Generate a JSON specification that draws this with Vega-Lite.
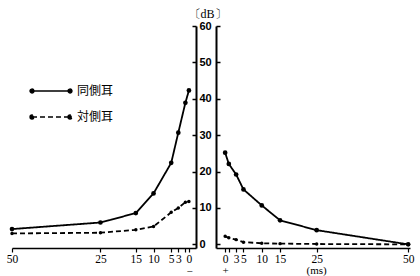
{
  "$schema": "https://vega.github.io/schema/vega-lite/v6.json",
  "background": "white",
  "padding": {"left": 6, "top": 7, "right": 2, "bottom": 0},
  "bounds": "flush",
  "spacing": 20,
  "config": {
    "view": {"stroke": null},
    "axis": {"domainColor": "black", "tickColor": "black", "labelColor": "black", "titleColor": "black", "titleFontWeight": "normal", "grid": false},
    "legend": {"labelColor": "black"}
  },
  "resolve": {"legend": {"strokeDash": "independent"}},
  "data": {"values": [
    {"side": "neg", "ear": "同側耳", "t": 50, "dB": 4.2},
    {"side": "neg", "ear": "同側耳", "t": 25, "dB": 6.0},
    {"side": "neg", "ear": "同側耳", "t": 15, "dB": 8.6},
    {"side": "neg", "ear": "同側耳", "t": 10, "dB": 14.0},
    {"side": "neg", "ear": "同側耳", "t": 5, "dB": 22.4},
    {"side": "neg", "ear": "同側耳", "t": 3, "dB": 30.7},
    {"side": "neg", "ear": "同側耳", "t": 1, "dB": 38.9},
    {"side": "neg", "ear": "同側耳", "t": 0, "dB": 42.3},
    {"side": "neg", "ear": "対側耳", "t": 50, "dB": 3.0},
    {"side": "neg", "ear": "対側耳", "t": 25, "dB": 3.2},
    {"side": "neg", "ear": "対側耳", "t": 15, "dB": 4.0},
    {"side": "neg", "ear": "対側耳", "t": 10, "dB": 4.9},
    {"side": "neg", "ear": "対側耳", "t": 5, "dB": 8.8},
    {"side": "neg", "ear": "対側耳", "t": 3, "dB": 10.0},
    {"side": "neg", "ear": "対側耳", "t": 1, "dB": 11.6},
    {"side": "neg", "ear": "対側耳", "t": 0, "dB": 11.8},
    {"side": "pos", "ear": "同側耳", "t": 0, "dB": 25.2},
    {"side": "pos", "ear": "同側耳", "t": 1, "dB": 22.1},
    {"side": "pos", "ear": "同側耳", "t": 3, "dB": 19.2},
    {"side": "pos", "ear": "同側耳", "t": 5, "dB": 15.1},
    {"side": "pos", "ear": "同側耳", "t": 10, "dB": 10.7},
    {"side": "pos", "ear": "同側耳", "t": 15, "dB": 6.6},
    {"side": "pos", "ear": "同側耳", "t": 25, "dB": 3.9},
    {"side": "pos", "ear": "同側耳", "t": 50, "dB": 0.0},
    {"side": "pos", "ear": "対側耳", "t": 0, "dB": 2.2},
    {"side": "pos", "ear": "対側耳", "t": 1, "dB": 1.8},
    {"side": "pos", "ear": "対側耳", "t": 3, "dB": 1.3},
    {"side": "pos", "ear": "対側耳", "t": 5, "dB": 0.6},
    {"side": "pos", "ear": "対側耳", "t": 10, "dB": 0.3},
    {"side": "pos", "ear": "対側耳", "t": 15, "dB": 0.2},
    {"side": "pos", "ear": "対側耳", "t": 25, "dB": 0.1},
    {"side": "pos", "ear": "対側耳", "t": 50, "dB": 0.0}
  ]},
  "hconcat": [
    {
      "width": 184,
      "height": 222,
      "transform": [{"filter": "datum.side == 'neg'"}],
      "encoding": {
        "x": {"field": "t", "type": "quantitative",
          "scale": {"domain": [-2, 50], "reverse": true, "nice": false, "zero": false},
          "axis": {"values": [0, 1, 3, 5, 10, 15, 25, 50], "labelExpr": "datum.value == 1 ? '' : datum.label", "labelOverlap": false, "labelFlush": false, "tickSize": 4, "labelPadding": 1, "domainWidth": 1.5, "tickWidth": 1.2, "labelFont": "Liberation Serif", "labelFontSize": 11.5,
            "title": "−", "titleX": 177, "titleY": 23, "titleAlign": "center", "titleBaseline": "middle", "titleFont": "Liberation Serif", "titleFontSize": 11}},
        "y": {"field": "dB", "type": "quantitative",
          "scale": {"domain": [-1, 60], "nice": false, "zero": false},
          "axis": {"orient": "right", "values": [0, 10, 20, 30, 40, 50, 60], "tickSize": -4, "tickWidth": 1.5, "labelPadding": 7, "domainWidth": 2, "labelFont": "Liberation Sans", "labelFontSize": 11, "labelFontWeight": "bold",
            "title": "〔dB〕", "titleAngle": 0, "titleX": 11, "titleY": -13, "titleAlign": "center", "titleBaseline": "middle", "titleFont": "Liberation Serif", "titleFontSize": 12}}
      },
      "layer": [
        {
          "mark": {"type": "line", "color": "black", "strokeWidth": 1.8},
          "encoding": {
            "strokeDash": {"field": "ear", "type": "nominal",
              "scale": {"domain": ["同側耳", "対側耳"], "range": [[1, 0], [5, 3]]},
              "legend": {"orient": "none", "legendX": 19, "legendY": 45, "title": null,
                "symbolType": "M-1,0L1,0M-1.1,0A0.1,0.1,0,1,0,-0.9,0A0.1,0.1,0,1,0,-1.1,0M0.9,0A0.1,0.1,0,1,0,1.1,0A0.1,0.1,0,1,0,0.9,0",
                "symbolSize": 1444, "symbolStrokeWidth": 1.5, "symbolStrokeColor": "black", "symbolFillColor": "black",
                "labelFont": "Noto Sans CJK JP", "labelFontSize": 12, "labelOffset": 6, "rowPadding": -6}}
          }
        },
        {
          "transform": [{"filter": "datum.ear == '同側耳'"}],
          "mark": {"type": "point", "filled": true, "color": "black", "opacity": 1, "size": 22}
        },
        {
          "transform": [{"filter": "datum.ear == '対側耳'"}],
          "mark": {"type": "point", "filled": true, "color": "black", "opacity": 1, "size": 12}
        }
      ]
    },
    {
      "width": 194,
      "height": 222,
      "layer": [
        {
          "transform": [{"filter": "datum.side == 'pos'"}],
          "encoding": {
            "x": {"field": "t", "type": "quantitative",
              "scale": {"domain": [-2.5, 50.5], "nice": false, "zero": false},
              "axis": {"values": [0, 1, 3, 5, 10, 15, 25, 50], "labelExpr": "datum.value == 1 ? '' : datum.label", "labelOverlap": false, "labelFlush": false, "tickSize": 4, "labelPadding": 1, "domainWidth": 1.5, "tickWidth": 1.2, "labelFont": "Liberation Serif", "labelFontSize": 11.5,
                "title": "+", "titleX": 9, "titleY": 22, "titleAlign": "center", "titleBaseline": "middle", "titleFont": "Liberation Serif", "titleFontSize": 11}},
            "y": {"field": "dB", "type": "quantitative",
              "scale": {"domain": [-1, 60], "nice": false, "zero": false},
              "axis": {"orient": "left", "values": [0, 10, 20, 30, 40, 50, 60], "labels": false, "tickSize": -4, "tickWidth": 1.5, "domainWidth": 2, "title": null}}
          },
          "layer": [
            {
              "mark": {"type": "line", "color": "black", "strokeWidth": 1.8},
              "encoding": {
                "strokeDash": {"field": "ear", "type": "nominal",
                  "scale": {"domain": ["同側耳", "対側耳"], "range": [[1, 0], [5, 3]]}, "legend": null}
              }
            },
            {
              "transform": [{"filter": "datum.ear == '同側耳'"}],
              "mark": {"type": "point", "filled": true, "color": "black", "opacity": 1, "size": 22}
            },
            {
              "transform": [{"filter": "datum.ear == '対側耳'"}],
              "mark": {"type": "point", "filled": true, "color": "black", "opacity": 1, "size": 12}
            }
          ]
        },
        {
          "data": {"values": [{"label": "(ms)"}]},
          "mark": {"type": "text", "font": "Liberation Serif", "fontSize": 11, "color": "black", "baseline": "middle"},
          "encoding": {
            "x": {"datum": 25, "type": "quantitative",
              "scale": {"domain": [-2.5, 50.5], "nice": false, "zero": false},
              "axis": {"values": [0, 1, 3, 5, 10, 15, 25, 50], "labelExpr": "datum.value == 1 ? '' : datum.label", "labelOverlap": false, "labelFlush": false, "tickSize": 4, "labelPadding": 1, "domainWidth": 1.5, "tickWidth": 1.2, "labelFont": "Liberation Serif", "labelFontSize": 11.5,
                "title": "+", "titleX": 9, "titleY": 22, "titleAlign": "center", "titleBaseline": "middle", "titleFont": "Liberation Serif", "titleFontSize": 11}},
            "y": {"datum": -7.2, "type": "quantitative",
              "scale": {"domain": [-1, 60], "nice": false, "zero": false},
              "axis": {"orient": "left", "values": [0, 10, 20, 30, 40, 50, 60], "labels": false, "tickSize": -4, "tickWidth": 1.5, "domainWidth": 2, "title": null}},
            "text": {"field": "label"}
          }
        }
      ]
    }
  ]
}
